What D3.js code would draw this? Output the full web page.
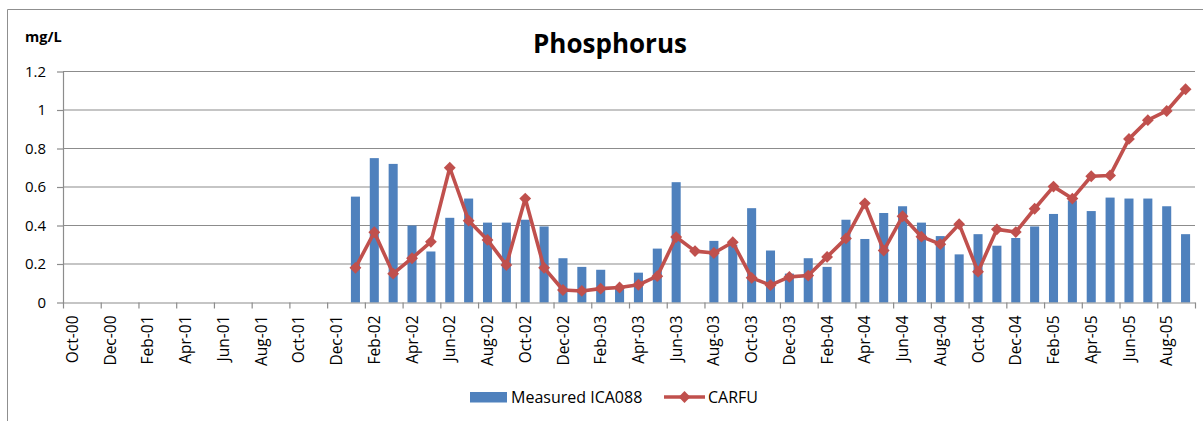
<!DOCTYPE html>
<html>
<head>
<meta charset="utf-8">
<script src="https://cdn.jsdelivr.net/npm/d3@7"></script>
<style>
  html, body { margin: 0; padding: 0; background: #fff; }
  svg { display: block; font-family: "Open Sans", "Noto Sans", sans-serif; }
</style>
</head>
<body>
<svg id="chart" width="1203" height="421"></svg>
<script>
// ---------- data ----------
const categories = [
  "Oct-00","Nov-00","Dec-00","Jan-01","Feb-01","Mar-01","Apr-01","May-01","Jun-01","Jul-01","Aug-01","Sep-01",
  "Oct-01","Nov-01","Dec-01","Jan-02","Feb-02","Mar-02","Apr-02","May-02","Jun-02","Jul-02","Aug-02","Sep-02",
  "Oct-02","Nov-02","Dec-02","Jan-03","Feb-03","Mar-03","Apr-03","May-03","Jun-03","Jul-03","Aug-03","Sep-03",
  "Oct-03","Nov-03","Dec-03","Jan-04","Feb-04","Mar-04","Apr-04","May-04","Jun-04","Jul-04","Aug-04","Sep-04",
  "Oct-04","Nov-04","Dec-04","Jan-05","Feb-05","Mar-05","Apr-05","May-05","Jun-05","Jul-05","Aug-05","Sep-05"
];
const measuredICA088 = [
  null,null,null,null,null,null,null,null,null,null,null,null,null,null,null,
  0.55,0.75,0.72,0.40,0.265,0.44,0.54,0.415,0.415,0.43,0.395,0.23,
  0.185,0.17,0.07,0.155,0.28,0.625,null,0.32,0.30,0.49,0.27,0.15,
  0.23,0.185,0.43,0.33,0.465,0.50,0.415,0.345,0.25,0.355,0.295,0.335,
  0.395,0.46,0.53,0.475,0.545,0.54,0.54,0.50,0.355
];
const carfu = [
  null,null,null,null,null,null,null,null,null,null,null,null,null,null,null,
  0.18,0.365,0.15,0.23,0.315,0.70,0.425,0.325,0.195,0.54,0.18,0.065,
  0.06,0.072,0.078,0.092,0.137,0.34,0.267,0.257,0.313,0.128,0.09,0.133,
  0.14,0.237,0.333,0.515,0.27,0.448,0.342,0.303,0.407,0.16,0.38,0.366,
  0.487,0.602,0.54,0.656,0.66,0.85,0.947,0.995,1.108
];
const yTicks = [0, 0.2, 0.4, 0.6, 0.8, 1, 1.2];
const xLabelCats = categories.filter((c, i) => i % 2 === 0);
const seriesNames = ["Measured ICA088", "CARFU"];
const titleText = "Phosphorus";
const unitText = "mg/L";

// ---------- layout ----------
const BLUE = "#4F81BD", RED = "#C0504D", GRID = "#8c8c8c";
const plotL = 63, plotR = 1195, plotT = 71.5, plotB = 302.5;

const svg = d3.select("#chart");

// chart border
svg.append("path")
  .attr("d", `M7.5,421 V9.5 H1210`)
  .attr("fill", "none").attr("stroke", "#8f8f8f").attr("stroke-width", 1);

const x = d3.scaleBand().domain(categories).range([plotL, plotR]).padding(0);
const xIdx = d3.scaleLinear().domain([0, categories.length]).range([plotL, plotR]);
const y = d3.scaleLinear().domain([0, 1.2]).range([plotB, plotT]);

// gridlines
svg.append("g").selectAll("line").data(yTicks.filter(d => d > 0)).join("line")
  .attr("x1", plotL).attr("x2", plotR)
  .attr("y1", d => y(d)).attr("y2", d => y(d))
  .attr("stroke", GRID).attr("stroke-width", 1.2);

// y axis
const yAxis = svg.append("g").attr("transform", `translate(${plotL},0)`)
  .call(d3.axisLeft(y).tickValues(yTicks).tickFormat(d3.format("~g")).tickSize(6).tickSizeOuter(0).tickPadding(11));
yAxis.select(".domain").attr("stroke", GRID).attr("stroke-width", 1.2);
yAxis.selectAll(".tick line").attr("stroke", GRID).attr("stroke-width", 1.2);
yAxis.selectAll("text").attr("font-size", 15).attr("fill", "#000")
  .attr("font-family", "'Open Sans', sans-serif");

// bars
const bw = x.bandwidth() * 0.48;
svg.append("g").selectAll("rect")
  .data(categories.map((c, i) => ({c, v: measuredICA088[i]})).filter(d => d.v != null))
  .join("rect")
  .attr("x", d => x(d.c) + (x.bandwidth() - bw) / 2)
  .attr("width", bw)
  .attr("y", d => y(d.v))
  .attr("height", d => y(0) - y(d.v))
  .attr("fill", BLUE);

// x axis ticks (between categories)
const xTickAxis = svg.append("g").attr("transform", `translate(0,${plotB})`)
  .call(d3.axisBottom(xIdx).tickValues(d3.range(0, categories.length + 1, 2)).tickFormat("").tickSize(6).tickSizeOuter(0));
xTickAxis.select(".domain").attr("stroke", GRID).attr("stroke-width", 1.2);
xTickAxis.selectAll(".tick line").attr("stroke", GRID).attr("stroke-width", 1.2);

// x axis labels
const xLab = svg.append("g").attr("transform", `translate(0,${plotB})`)
  .call(d3.axisBottom(x).tickValues(xLabelCats).tickSize(0).tickSizeOuter(0).tickPadding(0));
xLab.select(".domain").remove();
xLab.selectAll("text")
  .attr("font-size", 15.5).attr("fill", "#000").attr("font-family", "'Open Sans', sans-serif")
  .attr("text-anchor", "end")
  .attr("transform", "rotate(-90)")
  .attr("x", -13).attr("y", 0).attr("dy", "0.36em").attr("dx", 0);

// line
const lineData = categories.map((c, i) => ({c, v: carfu[i]})).filter(d => d.v != null);
const cx = d => x(d.c) + x.bandwidth() / 2;
svg.append("path")
  .datum(lineData)
  .attr("d", d3.line().x(cx).y(d => y(d.v)))
  .attr("fill", "none").attr("stroke", RED).attr("stroke-width", 3.6).attr("stroke-linejoin", "round");
const diamond = d3.symbol(d3.symbolSquare, 70);
svg.append("g").selectAll("path").data(lineData).join("path")
  .attr("d", diamond)
  .attr("transform", d => `translate(${cx(d)},${y(d.v)}) rotate(45)`)
  .attr("fill", RED);

// title and unit
svg.append("text").attr("x", 610).attr("y", 53).attr("text-anchor", "middle")
  .attr("font-size", 26).attr("font-weight", "bold").text(titleText);
svg.append("text").attr("x", 25).attr("y", 42)
  .attr("font-size", 14.5).attr("font-weight", "bold").text(unitText);

// legend
const lg = svg.append("g");
lg.append("rect").attr("x", 470).attr("y", 392).attr("width", 37).attr("height", 10.5).attr("fill", BLUE);
lg.append("text").attr("x", 511).attr("y", 403).attr("font-size", 16).text(seriesNames[0]);
lg.append("line").attr("x1", 664).attr("x2", 705).attr("y1", 397).attr("y2", 397)
  .attr("stroke", RED).attr("stroke-width", 3.6);
lg.append("path").attr("d", diamond).attr("transform", "translate(684.5,397) rotate(45)").attr("fill", RED);
lg.append("text").attr("x", 708).attr("y", 403).attr("font-size", 16).text(seriesNames[1]);
</script>
</body>
</html>
